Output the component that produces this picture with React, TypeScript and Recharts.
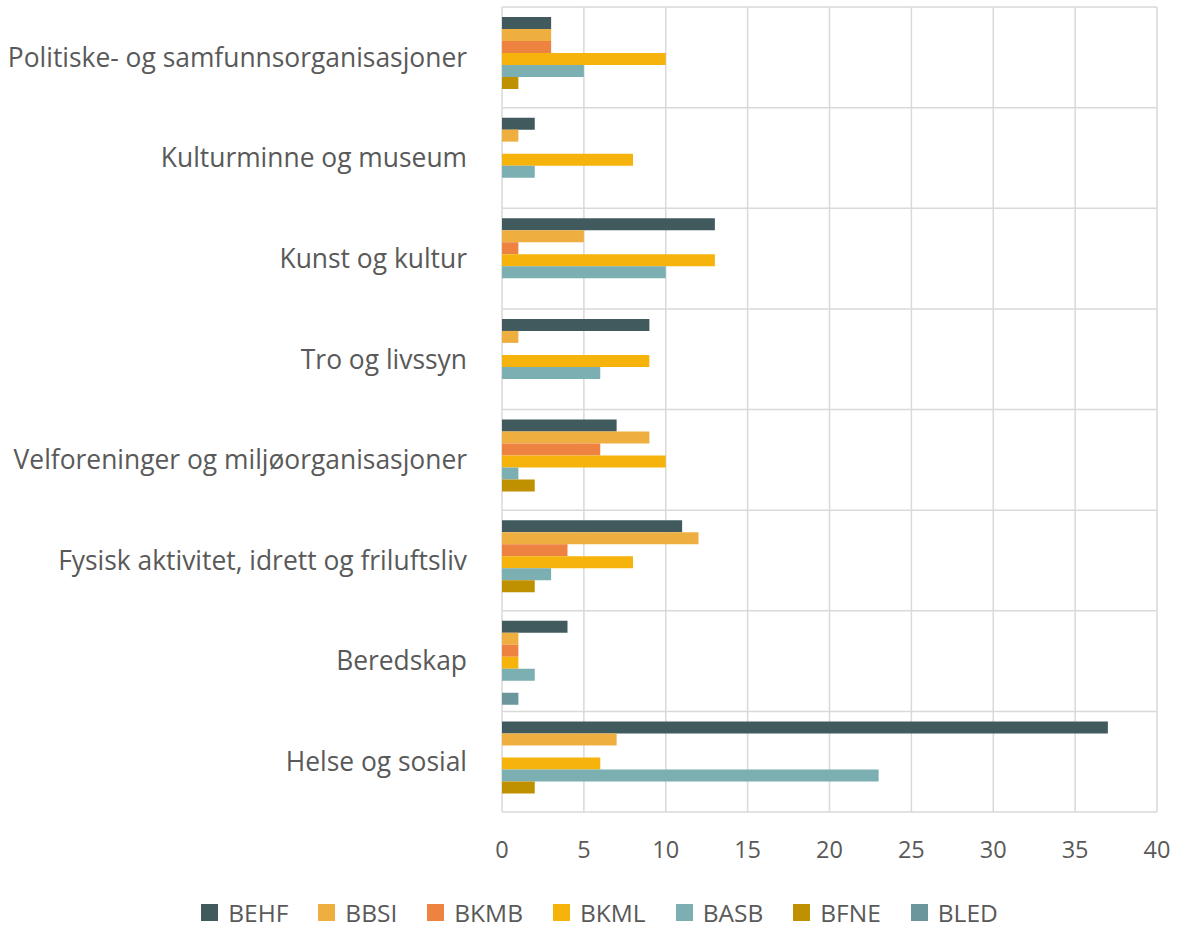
import React from "react";
import {
  BarChart,
  Bar,
  XAxis,
  YAxis,
  CartesianGrid,
  Legend,
} from "recharts";

const categories = [
  "Politiske- og samfunnsorganisasjoner",
  "Kulturminne og museum",
  "Kunst og kultur",
  "Tro og livssyn",
  "Velforeninger og miljøorganisasjoner",
  "Fysisk aktivitet, idrett og friluftsliv",
  "Beredskap",
  "Helse og sosial",
];

const seriesNames = ["BEHF", "BBSI", "BKMB", "BKML", "BASB", "BFNE", "BLED"];
const seriesColors = ["#405A5D", "#EEAF40", "#EE8240", "#F5B30C", "#7BAFB1", "#BF9000", "#6A969C"];

const BEHF = [3, 2, 13, 9, 7, 11, 4, 37];
const BBSI = [3, 1, 5, 1, 9, 12, 1, 7];
const BKMB = [3, 0, 1, 0, 6, 4, 1, 0];
const BKML = [10, 8, 13, 9, 10, 8, 1, 6];
const BASB = [5, 2, 10, 6, 1, 3, 2, 23];
const BFNE = [1, 0, 0, 0, 2, 2, 0, 2];
const BLED = [0, 0, 0, 0, 0, 0, 1, 0];

const xTicks = [0, 5, 10, 15, 20, 25, 30, 35, 40];

const seriesValues = [BEHF, BBSI, BKMB, BKML, BASB, BFNE, BLED];

const data = categories.map((name, i) => {
  const row: Record<string, string | number> = { name };
  seriesNames.forEach((s, j) => {
    row[s] = seriesValues[j][i];
  });
  return row;
});

const FONT = "'Open Sans', sans-serif";
const TEXT = "#595959";

const renderLegend = () => (
  <div
    style={{
      display: "flex",
      justifyContent: "center",
      alignItems: "center",
      height: 30,
      paddingLeft: 42,
      fontFamily: FONT,
      fontSize: 24.5,
      color: TEXT,
    }}
  >
    {seriesNames.map((s, i) => (
      <div key={s} style={{ display: "flex", alignItems: "center", marginRight: i < seriesNames.length - 1 ? 30 : 0 }}>
        <span style={{ width: 17, height: 17, background: seriesColors[i], marginRight: 10, display: "inline-block" }} />
        <span>{s}</span>
      </div>
    ))}
  </div>
);

export default function App() {
  return (
    <div style={{ position: "absolute", left: 0, top: 0 }}>
      <BarChart
        layout="vertical"
        width={1181}
        height={929}
        data={data}
        margin={{ top: 7, right: 24, bottom: 2, left: 0 }}
        barCategoryGap={10}
        barGap={0}
      >
        <CartesianGrid
          stroke="#D9D9D9"
          strokeWidth={1.5}
          horizontalCoordinatesGenerator={({ offset }: any) =>
            categories.map((_, i) => offset.top + (i * offset.height) / categories.length).concat(offset.top + offset.height)
          }
        />
        <XAxis
          type="number"
          domain={[0, 40]}
          ticks={xTicks}
          axisLine={false}
          tickLine={false}
          tickSize={0}
          tickMargin={29}
          height={85}
          tick={{ fill: TEXT, fontSize: 23.5, fontFamily: FONT }}
        />
        <YAxis
          type="category"
          dataKey="name"
          width={502}
          axisLine={false}
          tickLine={false}
          tickSize={0}
          tickMargin={35}
          interval={0}
          tick={{ fill: TEXT, fontSize: 26.4, fontFamily: FONT }}
        />
        <Legend verticalAlign="bottom" content={renderLegend} wrapperStyle={{ height: 30 }} />
        {seriesNames.map((s, i) => (
          <Bar key={s} dataKey={s} fill={seriesColors[i]} isAnimationActive={false} />
        ))}
      </BarChart>
    </div>
  );
}
